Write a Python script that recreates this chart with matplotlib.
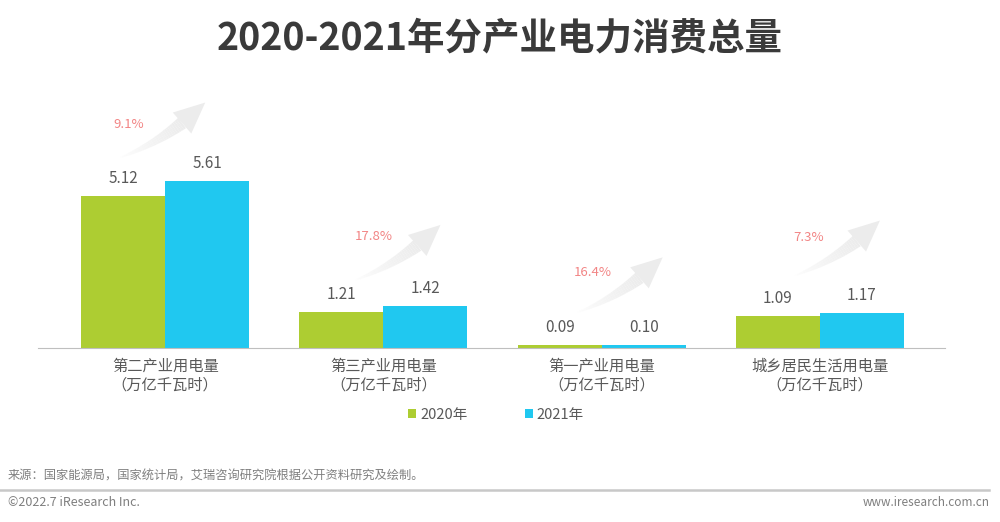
import numpy as np
import matplotlib.pyplot as plt
from matplotlib.patches import Polygon
from matplotlib.transforms import IdentityTransform

plt.rcParams['font.family'] = ['Noto Sans CJK SC', 'DejaVu Sans']

categories = ['第二产业用电量\n（万亿千瓦时）', '第三产业用电量\n（万亿千瓦时）',
              '第一产业用电量\n（万亿千瓦时）', '城乡居民生活用电量\n（万亿千瓦时）']
v2020 = [5.12, 1.21, 0.09, 1.09]
v2021 = [5.61, 1.42, 0.10, 1.17]
growth = ['9.1%', '17.8%', '16.4%', '7.3%']

green = '#ADCD32'
blue = '#20C8F0'
grey = '#595959'

# arrow tail offsets (pixels) from top of the 2020 bar, and label offsets from tail
tail_dx = [-3, 14, 18, 17]
tail_dy = [38, 32, 33, 40]
lab_dx = [8, 18, 15, 14]
lab_dy = [33, 43, 40, 38]

fig = plt.figure(figsize=(10, 5.22), dpi=100)
# axes: x 38..945 px, baseline at 348 px, top at 80 px
ax = fig.add_axes([0.038, (522 - 348) / 522, 0.907, (348 - 80) / 522])

x = np.arange(len(categories))
w = 0.385
b1 = ax.bar(x - w / 2, v2020, w, color=green, label='2020年')
b2 = ax.bar(x + w / 2, v2021, w, color=blue, label='2021年')

for bars in (b1, b2):
    for r in bars:
        ax.text(r.get_x() + r.get_width() / 2, r.get_height() + 0.3, f'{r.get_height():.2f}',
                ha='center', va='bottom', fontsize=11, color=grey)

ax.set_xlim(-0.583, 3.573)
ax.set_ylim(0, 9.0)


def growth_arrow(tx, ty):
    # curved, tapering arrow in pixel units, tail at (tx, ty)
    p0 = np.array([0.0, 0.0])
    pc = np.array([48.0, 18.0])
    p2 = np.array([85.0, 55.0])
    bez = lambda t: (1 - t) ** 2 * p0 + 2 * (1 - t) * t * pc + t ** 2 * p2
    n = 30
    ts = np.linspace(0, 0.7, n + 1)
    pts = np.array([bez(t) for t in ts])
    tang = np.gradient(pts, axis=0)
    nrm = np.stack([-tang[:, 1], tang[:, 0]], axis=1)
    nrm /= np.linalg.norm(nrm, axis=1)[:, None]
    hw = np.linspace(0.5, 6.5, n + 1)
    left = pts + nrm * hw[:, None]
    right = pts - nrm * hw[:, None]
    off = np.array([tx, ty])
    for k in range(n):
        quad = np.array([left[k], left[k + 1], right[k + 1], right[k]]) + off
        a = 0.05 + 0.95 * (k / n) ** 0.8
        ax.add_patch(Polygon(quad, closed=True, color='#ECECEC', alpha=a, lw=0,
                             transform=IdentityTransform(), zorder=0))
    base = pts[-1]
    d = p2 - base
    d /= np.linalg.norm(d)
    nb = np.array([-d[1], d[0]])
    head = np.array([base + nb * 14, p2, base - nb * 14]) + off
    ax.add_patch(Polygon(head, closed=True, color='#ECECEC', lw=0,
                         transform=IdentityTransform(), zorder=0))


for i in range(len(x)):
    px, py = ax.transData.transform((x[i] - w / 2, v2020[i]))
    growth_arrow(px + tail_dx[i], py + tail_dy[i])
    ax.annotate(growth[i], (x[i] - w / 2, v2020[i]),
                xytext=(tail_dx[i] + lab_dx[i], tail_dy[i] + lab_dy[i]), textcoords='offset pixels',
                ha='center', va='center', fontsize=9.5, color='#F28585')

for s in ['top', 'right', 'left']:
    ax.spines[s].set_visible(False)
ax.spines['bottom'].set_color('#BFBFBF')
ax.set_yticks([])
ax.set_xticks(x)
ax.set_xticklabels(categories, fontsize=11, color=grey, linespacing=1.15)
ax.tick_params(axis='x', length=0, pad=7)

ax.legend(loc='upper center', bbox_to_anchor=(0.505, -0.175), ncol=2, frameon=False,
          fontsize=10.5, labelcolor=grey, handlelength=0.55, handleheight=0.55,
          handletextpad=0.3, columnspacing=3.9)

fig.text(0.5, 1 - 38 / 522, '2020-2021年分产业电力消费总量', ha='center', va='center',
         fontsize=27, fontweight='bold', color='#3A3A3A')
fig.text(0.008, 1 - 476 / 522, '来源：国家能源局，国家统计局，艾瑞咨询研究院根据公开资料研究及绘制。',
         ha='left', va='center', fontsize=8.8, color='#7F7F7F')
fig.add_artist(plt.Line2D([0.0, 0.989], [1 - 490 / 522] * 2, color='#C8C8C8', lw=1.8))
fig.text(0.008, 1 - 503 / 522, '©2022.7 iResearch Inc.', ha='left', va='center',
         fontsize=9, color='#7F7F7F')
fig.text(0.99, 1 - 503 / 522, 'www.iresearch.com.cn', ha='right', va='center',
         fontsize=8.5, color='#7F7F7F')

fig.savefig('out.png', dpi=100, facecolor='white')
